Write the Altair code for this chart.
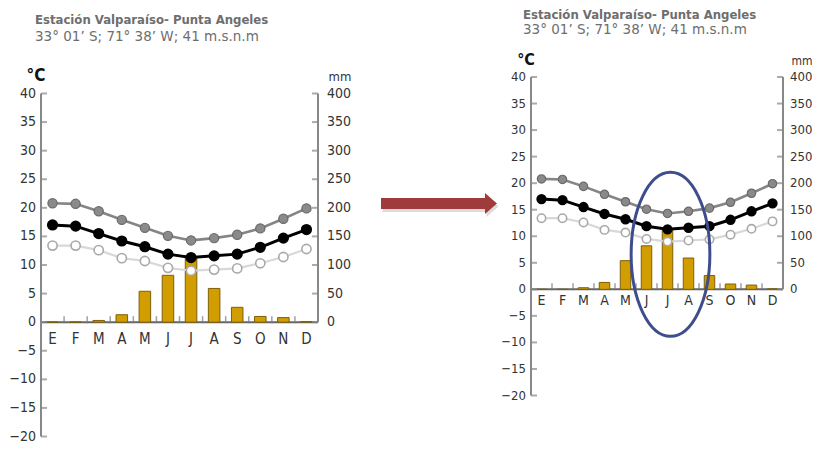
import altair as alt
import pandas as pd

# ---------------- data ----------------
meses = ["ene", "feb", "mar", "abr", "may", "jun", "jul", "ago", "sep", "oct", "nov", "dic"]
etiquetas = ["E", "F", "M", "A", "M", "J", "J", "A", "S", "O", "N", "D"]
t_max = [20.8, 20.7, 19.4, 17.9, 16.5, 15.1, 14.3, 14.7, 15.3, 16.4, 18.1, 19.9]
t_media = [17.0, 16.8, 15.5, 14.2, 13.2, 11.9, 11.3, 11.6, 11.9, 13.1, 14.7, 16.2]
t_min = [13.4, 13.4, 12.6, 11.2, 10.7, 9.5, 9.0, 9.2, 9.4, 10.3, 11.4, 12.8]
precip = [0, 0, 3, 13, 54, 82, 112, 59, 26, 10, 8, 1]
temp_ticks = [-20, -15, -10, -5, 0, 5, 10, 15, 20, 25, 30, 35, 40]
mm_ticks = [0, 50, 100, 150, 200, 250, 300, 350, 400]
titulo = ["Estación Valparaíso- Punta Angeles", "33° 01’ S; 71° 38’ W; 41 m.s.n.m"]
unidades = ["°C", "mm"]
resaltado_mes = ["jul"]
resaltado_temp = [6.6]

df = pd.DataFrame({"mes": meses, "lab": etiquetas, "tmax": t_max,
                   "tmed": t_media, "tmin": t_min, "pp": precip})
df_tt = pd.DataFrame({"v": temp_ticks})
df_mt = pd.DataFrame({"v": mm_ticks})
df_edges = pd.DataFrame({"mes": meses[:-1]})

FONT = "DejaVu Sans Condensed, DejaVu Sans"
M = 8  # page margin


def panel(x0, x1, ytop, ybot, fs_ax, fs_mon, fs_tit, msize, tit_x, tit_y1, tit_y2,
          degc_xy, mm_xy, lab_r, lab_l, mon_y, ell=False):
    X0, X1, YT, YB = x0 - M, x1 - M, ytop - M, ybot - M
    xp = alt.Scale(type="point", domain=meses, range=[X0, X1], padding=0.5)
    xb = alt.Scale(type="band", domain=meses, range=[X0, X1], paddingInner=0.5, paddingOuter=0.25)
    yt = alt.Scale(domain=[-20, 40], range=[YB, YT], nice=False, zero=False)
    ym = alt.Scale(domain=[-200, 400], range=[YB, YT], nice=False, zero=False)
    step = (X1 - X0) / 12.0
    y_zero = YB - (YB - YT) / 3.0
    axc = "#888888"
    L = []
    # zero line (x-axis)
    L.append(alt.Chart(pd.DataFrame({"v": [0]})).mark_rule(color="#666666", strokeWidth=2).encode(
        x=alt.value(X0), x2=alt.value(X1), y=alt.Y("v:Q", scale=yt, axis=None)))
    # x ticks at month boundaries (pointing up)
    L.append(alt.Chart(df_edges).mark_tick(color="#777777", thickness=1.5, size=7,
                                           orient="vertical").encode(
        x=alt.X("mes:N", scale=xp, axis=None), xOffset=alt.value(step / 2),
        y=alt.value(y_zero - 2.5)))
    # bars
    L.append(alt.Chart(df).mark_bar(color="#D29D00", stroke="#7d5f0a", strokeWidth=1).encode(
        x=alt.X("mes:N", scale=xb, axis=None),
        y=alt.Y("pp:Q", scale=ym, axis=None)))
    # min temperature
    L.append(alt.Chart(df).mark_line(color="#d8d8d8", strokeWidth=2.2).encode(
        x=alt.X("mes:N", scale=xp, axis=None), y=alt.Y("tmin:Q", scale=yt, axis=None)))
    L.append(alt.Chart(df).mark_point(filled=True, fill="#ffffff", stroke="#a9a9a9",
                                      strokeWidth=1.6, size=msize, opacity=1).encode(
        x=alt.X("mes:N", scale=xp, axis=None), y=alt.Y("tmin:Q", scale=yt, axis=None)))
    # max temperature
    L.append(alt.Chart(df).mark_line(color="#858585", strokeWidth=2.6).encode(
        x=alt.X("mes:N", scale=xp, axis=None), y=alt.Y("tmax:Q", scale=yt, axis=None)))
    L.append(alt.Chart(df).mark_point(filled=True, fill="#8a8a8a", stroke="#6a6a6a",
                                      strokeWidth=1.2, size=msize, opacity=1).encode(
        x=alt.X("mes:N", scale=xp, axis=None), y=alt.Y("tmax:Q", scale=yt, axis=None)))
    # mean temperature
    L.append(alt.Chart(df).mark_line(color="#000000", strokeWidth=3).encode(
        x=alt.X("mes:N", scale=xp, axis=None), y=alt.Y("tmed:Q", scale=yt, axis=None)))
    L.append(alt.Chart(df).mark_point(filled=True, fill="#000000", stroke="#000000",
                                      size=msize, opacity=1).encode(
        x=alt.X("mes:N", scale=xp, axis=None), y=alt.Y("tmed:Q", scale=yt, axis=None)))
    # left axis line, ticks (inward), labels
    L.append(alt.Chart(pd.DataFrame({"a": [-20], "b": [40]})).mark_rule(color=axc, strokeWidth=2).encode(
        x=alt.value(X0), y=alt.Y("a:Q", scale=yt, axis=None), y2="b:Q"))
    L.append(alt.Chart(df_tt).mark_tick(color=axc, thickness=2, size=6,
                                        orient="horizontal").encode(
        x=alt.value(X0 + 3), y=alt.Y("v:Q", scale=yt, axis=None)))
    L.append(alt.Chart(df_tt).mark_text(font=FONT, fontSize=fs_ax, color="#333333",
                                        align="right", baseline="middle").encode(
        x=alt.value(lab_r - M), y=alt.Y("v:Q", scale=yt, axis=None), text="v:Q"))
    # right axis line, ticks (inward), labels
    L.append(alt.Chart(pd.DataFrame({"a": [0], "b": [400]})).mark_rule(color=axc, strokeWidth=2).encode(
        x=alt.value(X1), y=alt.Y("a:Q", scale=ym, axis=None), y2="b:Q"))
    L.append(alt.Chart(df_mt).mark_tick(color=axc, thickness=2, size=6,
                                        orient="horizontal").encode(
        x=alt.value(X1 - 3), y=alt.Y("v:Q", scale=ym, axis=None)))
    L.append(alt.Chart(df_mt).mark_text(font=FONT, fontSize=fs_ax, color="#333333",
                                        align="left", baseline="middle").encode(
        x=alt.value(lab_l - M), y=alt.Y("v:Q", scale=ym, axis=None), text="v:Q"))
    # month labels
    L.append(alt.Chart(df).mark_text(font=FONT, fontSize=fs_mon, color="#333333",
                                     baseline="middle").encode(
        x=alt.X("mes:N", scale=xp, axis=None), y=alt.value(mon_y - M), text="lab:N"))
    # units
    L.append(alt.Chart(pd.DataFrame({"u": [unidades[0]]})).mark_text(
        font=FONT, fontSize=fs_ax + 3, fontWeight="bold", color="#111111", baseline="middle").encode(
        x=alt.value(degc_xy[0] - M), y=alt.value(degc_xy[1] - M), text="u:N"))
    L.append(alt.Chart(pd.DataFrame({"u": [unidades[1]]})).mark_text(
        font=FONT, fontSize=fs_ax - 1, color="#333333", baseline="middle").encode(
        x=alt.value(mm_xy[0] - M), y=alt.value(mm_xy[1] - M), text="u:N"))
    # title
    L.append(alt.Chart(pd.DataFrame({"t": [titulo[0]]})).mark_text(
        font=FONT, fontSize=fs_tit, fontWeight="bold", color="#6e6e6e", align="left",
        baseline="middle").encode(
        x=alt.value(tit_x - M), y=alt.value(tit_y1 - M), text="t:N"))
    L.append(alt.Chart(pd.DataFrame({"t": [titulo[1]]})).mark_text(
        font="DejaVu Sans", fontSize=fs_tit + 0.5, color="#6e6e6e", align="left",
        baseline="middle").encode(
        x=alt.value(tit_x - M), y=alt.value(tit_y2 - M), text="t:N"))
    if ell:
        L.append(alt.Chart(pd.DataFrame({"mes": resaltado_mes, "t": resaltado_temp})).mark_point(
            shape="M -0.48 0 A 0.48 1 0 1 0 0.48 0 A 0.48 1 0 1 0 -0.48 0 Z",
            size=164 * 164, filled=False, stroke="#3e4e8c", strokeWidth=3, opacity=1).encode(
            x=alt.X("mes:N", scale=xp, axis=None), xOffset=alt.value(3),
            y=alt.Y("t:Q", scale=yt, axis=None)))
    return L


left = panel(41, 318, 93.5, 436.5, fs_ax=14, fs_mon=15, fs_tit=13, msize=85,
             tit_x=35, tit_y1=20, tit_y2=37, degc_xy=(36, 76), mm_xy=(340, 77),
             lab_r=36, lab_l=327, mon_y=339)
right = panel(531, 783, 77, 395.5, fs_ax=13, fs_mon=14, fs_tit=13, msize=70,
              tit_x=523, tit_y1=14.5, tit_y2=29.5, degc_xy=(526, 60), mm_xy=(802, 61),
              lab_r=526, lab_l=790, mon_y=301, ell=True)

ARROW = "M -1 -0.095 L 0.793 -0.095 L 0.793 -0.181 L 1 0 L 0.793 0.181 L 0.793 0.095 L -1 0.095 Z"
df_arrow = pd.DataFrame({"k": [0]})
arrow_shadow = alt.Chart(df_arrow).mark_point(shape=ARROW, size=116 * 116, filled=True,
                                              fill="#9a9a9a", opacity=0.35, strokeWidth=0).encode(
    x=alt.value(439 - M + 1.5), y=alt.value(203.5 - M + 3))
arrow = alt.Chart(df_arrow).mark_point(shape=ARROW, size=116 * 116, filled=True,
                                       fill="#a03b3b", opacity=1, strokeWidth=0).encode(
    x=alt.value(439 - M), y=alt.value(203.5 - M))

chart = alt.layer(*left, *right, arrow_shadow, arrow).resolve_scale(
    x="independent", y="independent"
).properties(
    width=804, height=434, padding=0,
    autosize=alt.AutoSizeParams(type="none"),
    background="#ffffff",
).configure_view(strokeWidth=0)

chart.save("out.html", embed_options={"renderer": "svg", "actions": False})
